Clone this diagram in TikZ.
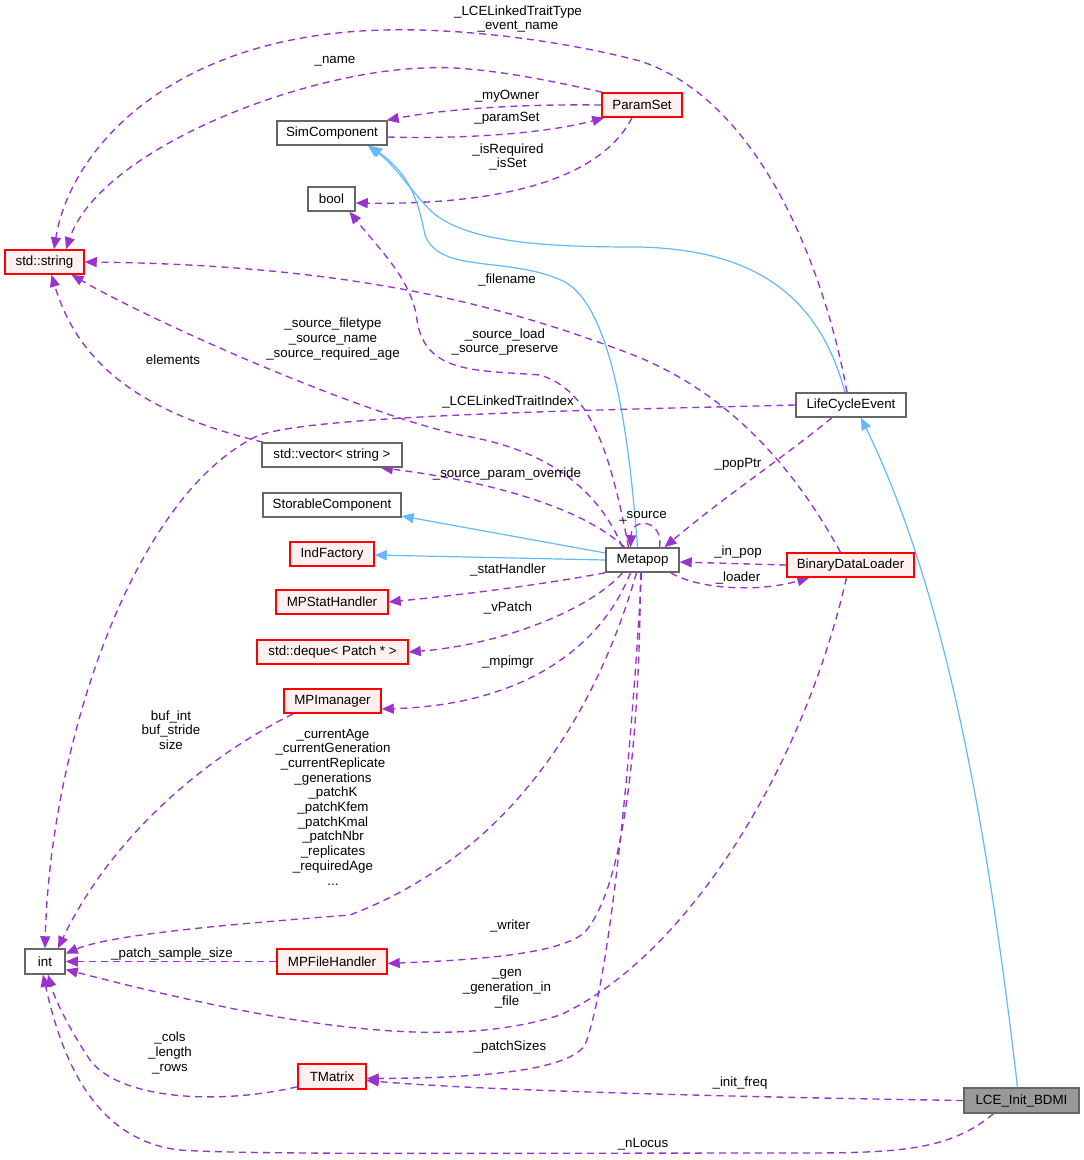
\documentclass[tikz,border=0pt]{standalone}
\usepackage{fontspec}
\setmainfont{Liberation Sans}
\usetikzlibrary{arrows.meta,calc,backgrounds}
\definecolor{purp}{HTML}{9A32CD}
\definecolor{blu}{HTML}{63B8FF}
\definecolor{redb}{HTML}{FF0000}
\definecolor{pinkbg}{HTML}{FFF0F0}
\definecolor{grayb}{HTML}{666666}
\definecolor{grayf}{HTML}{999999}
\newcommand\dxfont{\fontsize{13.33}{14.7}\selectfont}
\tikzset{
  cls/.style={draw=grayb, fill=white, line width=1.5pt, minimum height=24pt, inner sep=0pt, font=\dxfont},
  redcls/.style={cls, draw=redb, fill=pinkbg},
  dep/.style={draw=purp, line width=1.35pt, dash pattern=on 7pt off 5pt, -{Triangle[length=12pt,width=10pt,fill=purp]}},
  inh/.style={draw=blu, line width=1.2pt, -{Triangle[length=12pt,width=10pt,fill=blu]}},
  lab/.style={font=\dxfont, align=center, inner sep=0pt, text=black}
}
\begin{document}
\begin{tikzpicture}[x=1pt,y=-1pt]
\useasboundingbox (0,0) rectangle (1084,1160);
% nodes
\node[redcls, minimum width=80pt] (paramset) at (642,105) {ParamSet};
\node[cls, minimum width=110pt] (simcomp) at (332,133) {SimComponent};
\node[cls, minimum width=47pt] (bool) at (331.5,199) {bool};
\node[redcls, minimum width=79pt] (string) at (44.5,262) {std::string};
\node[cls, minimum width=110pt] (lce) at (851,405) {LifeCycleEvent};
\node[cls, minimum width=140pt] (vector) at (332,455) {std::vector< string >};
\node[cls, minimum width=138pt] (storable) at (332,505) {StorableComponent};
\node[redcls, minimum width=84pt] (indfactory) at (332,554) {IndFactory};
\node[cls, minimum width=73pt] (metapop) at (642.5,560) {Metapop};
\node[redcls, minimum width=127pt] (bdl) at (850.5,565) {BinaryDataLoader};
\node[redcls, minimum width=112pt] (mpstat) at (332,602) {MPStatHandler};
\node[redcls, minimum width=151pt] (deque) at (332.5,652) {std::deque< Patch * >};
\node[redcls, minimum width=97pt] (mpi) at (332.5,701) {MPImanager};
\node[cls, minimum width=40pt, minimum height=25pt] (int) at (45,961.5) {int};
\node[redcls, minimum width=110pt, minimum height=25pt] (mpfile) at (332,961.5) {MPFileHandler};
\node[redcls, minimum width=68pt, minimum height=25pt] (tmatrix) at (332,1076.5) {TMatrix};
\node[cls, fill=grayf, minimum width=115pt, minimum height=25pt] (bdmi) at (1021.5,1100.5) {LCE\_Init\_BDMI};

\begin{scope}[on background layer]
% 1
\draw[dep] ($(lce.north)+(-4,0)$) .. controls (825,270) and (760,100) .. (640,61)
  .. controls (560,40) and (460,28) .. (384,30) .. controls (170,35) and (70,150) .. ($(string.north)+(9.5,0)$);
% 2
\draw[dep] ($(paramset.north west)+(1,0)$) .. controls (540,78) and (470,65) .. (424,68)
  .. controls (300,72) and (100,150) .. ($(string.north)+(21.5,0)$);
% 3
\draw[dep] (paramset.west) .. controls (530,104) and (450,108) .. ($(simcomp.north east)+(-1,0)$);
% 4
\draw[dep] ($(simcomp.east)+(0,4)$) .. controls (450,139) and (540,135) .. ($(paramset.south west)+(3,0)$);
% 5
\draw[dep] ($(paramset.south)+(-10,0)$) .. controls (600,180) and (500,205) .. ($(bool.east)+(0,4)$);
% 6a, 6b
\draw[inh] ($(metapop.north)+(-5,0)$) .. controls (630,450) and (615,310) .. (565,282)
  .. controls (510,255) and (440,275) .. (425,235) .. controls (418,200) and (410,175) .. ($(simcomp.south)+(38,0)$);
\draw[inh] ($(lce.north)+(-6,0)$) .. controls (820,300) and (760,250) .. (640,247)
  .. controls (560,247) and (470,245) .. (432,212) .. controls (410,190) and (395,165) .. ($(simcomp.south)+(36,0)$);
% 7
\draw[dep] ($(bdl.north)+(-10,0)$) .. controls (790,460) and (720,385) .. (620,350)
  .. controls (500,305) and (350,265) .. (string.east);
% 8
\draw[dep] ($(metapop.north)+(-14,0)$) .. controls (610,450) and (590,390) .. (540,375)
  .. controls (480,370) and (425,375) .. (417,320) .. controls (412,280) and (380,250) .. ($(bool.south)+(18,0)$);
% 9
\draw[dep] ($(metapop.north)+(-20,0)$) .. controls (590,470) and (520,445) .. (460,435)
  .. controls (350,410) and (150,320) .. ($(string.south)+(27,0)$);
% 10
\draw[dep] ($(vector.north west)+(2,0)$) .. controls (150,415) and (80,370) .. ($(string.south)+(7,0)$);
% 11
\draw[dep] (lce.west) .. controls (600,410) and (300,415) .. (255,437)
  .. controls (130,500) and (50,750) .. (int.north);
% 12
\draw[dep] ($(metapop.north)+(-18,0)$) .. controls (580,505) and (480,480) .. ($(vector.south east)+(-22,0)$);
% 13 self loop
\draw[dep] ($(metapop.north)+(17,0)$) .. controls (664,520) and (632,516) .. ($(metapop.north)+(-12,0)$);
% 14
\draw[dep] ($(lce.south)+(-19,0)$) .. controls (780,460) and (720,500) .. ($(metapop.north)+(22,0)$);
% 15, 16
\draw[inh] ($(metapop.west)+(0,-7)$) -- ($(storable.east)+(0,11)$);
\draw[inh] (metapop.west) -- ($(indfactory.east)+(0,1)$);
% 17
\draw[dep] (bdl.west) -- ($(metapop.east)+(0,2)$);
% 18
\draw[dep] ($(metapop.south east)+(-9,0)$) .. controls (700,590) and (760,592) .. ($(bdl.south west)+(23,0)$);
% 19
\draw[dep] (metapop.south west) .. controls (540,585) and (460,595) .. (mpstat.east);
% 20
\draw[dep] ($(metapop.south)+(-20,0)$) .. controls (590,610) and (500,645) .. (deque.east);
% 21
\draw[dep] ($(metapop.south)+(-12,0)$) .. controls (600,650) and (520,705) .. ($(mpi.east)+(0,8)$);
% 22
\draw[dep] ($(mpi.south west)+(10,0)$) .. controls (200,760) and (110,840) .. ($(int.north)+(13,0)$);
% 23
\draw[dep] ($(metapop.south)+(-6,0)$) .. controls (600,700) and (520,850) .. (350,915)
  .. controls (220,925) and (110,935) .. ($(int.east)+(0,-8)$);
% 24
\draw[dep] ($(metapop.south)+(-2,0)$) .. controls (640,700) and (630,880) .. (585,932)
  .. controls (560,955) and (470,960) .. ($(mpfile.east)+(0,2)$);
% 25
\draw[dep] (mpfile.west) -- (int.east);
% 26
\draw[dep] ($(bdl.south)+(-4,0)$) .. controls (800,780) and (680,960) .. (560,1015)
  .. controls (450,1050) and (300,1030) .. ($(int.east)+(0,8)$);
% 27
\draw[dep] ($(metapop.south)+(-1,0)$) .. controls (632,750) and (610,980) .. (585,1045)
  .. controls (565,1075) and (450,1078) .. ($(tmatrix.east)+(0,2)$);
% 28
\draw[dep] ($(tmatrix.south west)+(0,-3)$) .. controls (220,1105) and (120,1100) .. (90,1060)
  .. controls (70,1030) and (55,1000) .. ($(int.south)+(3,0)$);
% 29
\draw[dep] (bdmi.west) .. controls (800,1098) and (500,1092) .. ($(tmatrix.east)+(0,4)$);
% 30
\draw[inh] ($(bdmi.north)+(-4,0)$) .. controls (990,850) and (950,600) .. ($(lce.south)+(10,0)$);
% 31
\draw[dep] ($(bdmi.south)+(-28,0)$) .. controls (950,1150) and (900,1153) .. (800,1153)
  .. controls (500,1153) and (250,1155) .. (180,1150) .. controls (90,1140) and (60,1050) .. ($(int.south)+(-2,0)$);
\end{scope}

% labels
\node[lab] (l1) at (518,19) {\_LCELinkedTraitType\\\_event\_name};
\node[lab] (l2) at (335,61) {\_name};
\node[lab] (l3) at (507,96) {\_myOwner};
\node[lab] (l4) at (507,118) {\_paramSet};
\node[lab] (l5) at (508,157) {\_isRequired\\\_isSet};
\node[lab] (l7) at (507,280) {\_filename};
\node[lab] (l9) at (333,339) {\_source\_filetype\\\_source\_name\\\_source\_required\_age};
\node[lab] (l10) at (173,360) {elements};
\node[lab] (l8) at (505,342) {\_source\_load\\\_source\_preserve};
\node[lab] (l11) at (508,402) {\_LCELinkedTraitIndex};
\node[lab] (l12) at (507,474) {\_source\_param\_override};
\node[lab] (l14) at (738,464) {\_popPtr};
\node[lab] (l13) at (643,516) {\_source};
\node[lab] (l17) at (738,552) {\_in\_pop};
\node[lab] (l18) at (738,578) {\_loader};
\node[lab] (l19) at (508,570) {\_statHandler};
\node[lab] (l20) at (508,608) {\_vPatch};
\node[lab] (l21) at (508,662) {\_mpimgr};
\node[lab] (l22) at (171,730) {buf\_int\\buf\_stride\\size};
\node[lab] (l23) at (333,807) {\_currentAge\\\_currentGeneration\\\_currentReplicate\\\_generations\\\_patchK\\\_patchKfem\\\_patchKmal\\\_patchNbr\\\_replicates\\\_requiredAge\\...};
\node[lab] (l24) at (510,926) {\_writer};
\node[lab] (l25) at (172,954) {\_patch\_sample\_size};
\node[lab] (l26) at (507,989) {\_gen\\\_generation\_in\\\_file};
\node[lab] (l27) at (510,1047) {\_patchSizes};
\node[lab] (l28) at (170,1053) {\_cols\\\_length\\\_rows};
\node[lab] (l29) at (740,1083) {\_init\_freq};
\node[lab] (l31) at (643,1144) {\_nLocus};
\end{tikzpicture}
\end{document}
